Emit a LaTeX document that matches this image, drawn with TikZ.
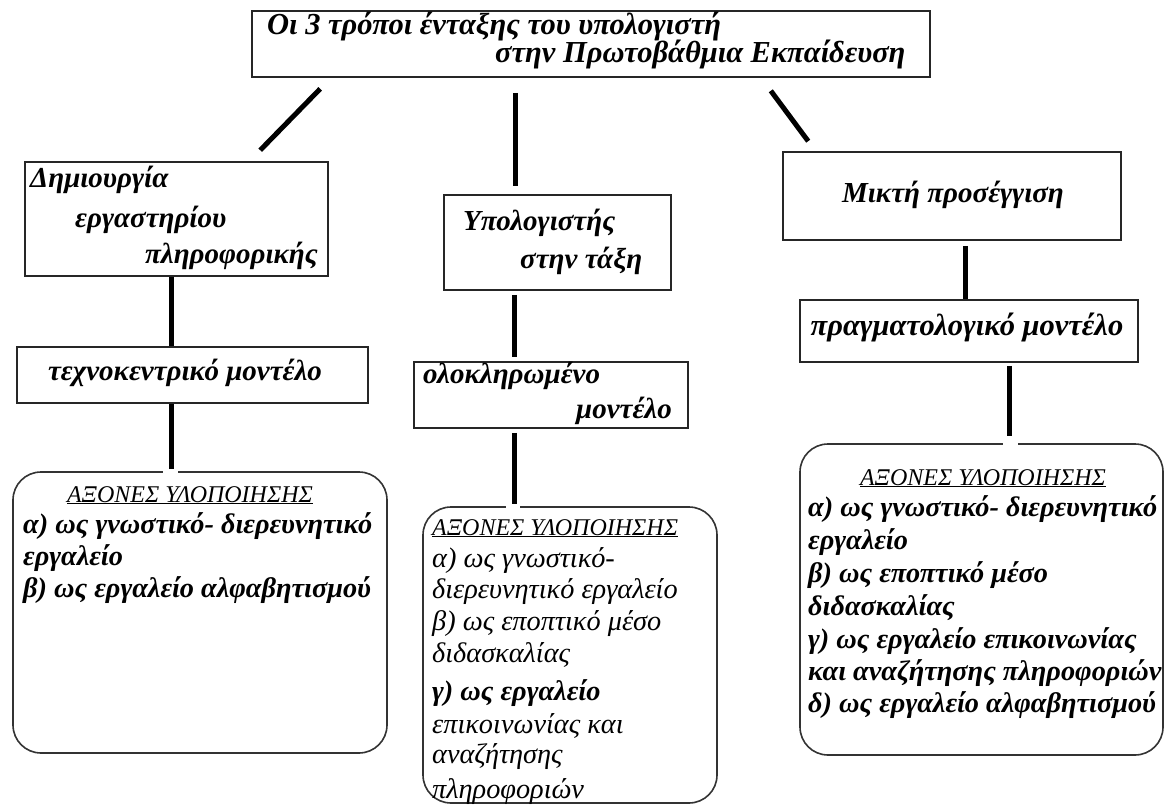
\documentclass[tikz,border=0pt]{standalone}
\usepackage{fontspec}
\setmainfont{Liberation Serif}
\usetikzlibrary{fit,calc}
\tikzset{
  box/.style={draw=black!85, line width=1.6pt, rectangle, inner sep=0pt},
  rbox/.style={draw=black!80, line width=1.6pt, rectangle, rounded corners=28pt, inner sep=0pt},
  conn/.style={line width=5pt, black},
  gap/.style={white, line width=4pt},
  bt/.style={inner sep=0pt, font=\fontsize{29}{33}\selectfont\bfseries\itshape},
  tt/.style={inner sep=0pt, font=\fontsize{30.5}{33}\selectfont\bfseries\itshape},
  lb/.style={inner sep=0pt, font=\fontsize{28.3}{33}\selectfont\bfseries\itshape},
  li/.style={inner sep=0pt, font=\fontsize{28.3}{33}\selectfont\itshape},
  hd/.style={inner sep=0pt, font=\fontsize{24}{28}\selectfont\itshape},
}
\begin{document}
\begin{tikzpicture}[x=1pt,y=-1pt]
\path[use as bounding box, clip] (0,0) rectangle (1164,805);
\fill[white] (0,0) rectangle (1164,805);
% boxes
\node[box, fit={(252,11) (930,77)}] (T) {};
\node[box, fit={(25,162) (328,276)}] (D) {};
\node[box, fit={(17,347) (368,403)}] (M1) {};
\node[rbox, fit={(13,472) (387,753)}] (R1) {};
\node[box, fit={(444,195) (671,290)}] (U) {};
\node[box, fit={(414,362) (688,428)}] (O) {};
\node[rbox, fit={(423,507) (717,803)}] (R2) {};
\node[box, fit={(783,152) (1121,240)}] (K) {};
\node[box, fit={(800,300) (1138,362)}] (P) {};
\node[rbox, fit={(800,444) (1163,755)}] (R3) {};
% small breaks in the rounded boxes' top borders
\draw[gap] (R1.north -| 163,0) -- (R1.north -| 178,0);
\draw[gap] (R2.north -| 506,0) -- (R2.north -| 520,0);
\draw[gap] (R3.north -| 1003,0) -- (R3.north -| 1018,0);
% connectors
\draw[conn] ($(T.south west)+(69,11)$) -- ($(D.north west)+(236,-11)$);
\draw[conn] ($(T.south west)+(264,15)$) -- ($(U.north west)+(72,-8)$);
\draw[conn] ($(T.south east)+(-160,13)$) -- ($(K.north west)+(26,-10)$);
\draw[conn] (D.south -| 171,0) -- (M1.north -| 171,0);
\draw[conn] (M1.south -| 171,0) -- ([yshift=2pt]R1.north -| 171,0);
\draw[conn] ([yshift=-4pt]U.south -| 514,0) -- ([yshift=4pt]O.north -| 514,0);
\draw[conn] ([yshift=-4pt]O.south -| 514,0) -- ([yshift=2pt]R2.north -| 514,0);
\draw[conn] ([yshift=-5pt]K.south -| 965,0) -- (P.north -| 965,0);
\draw[conn] ([yshift=-3pt]P.south -| 1009,0) -- ([yshift=7pt]R3.north -| 1009,0);
% title
\node[tt, anchor=base west] (t1) at (267,35) {Οι 3 τρόποι ένταξης του υπολογιστή};
\node[tt, anchor=base west] (t2) at (495,63) {στην Πρωτοβάθμια Εκπαίδευση};
% left column
\node[bt, anchor=base west] (d1) at (30,188) {Δημιουργία};
\node[bt, anchor=base west] (d2) at (75,227) {εργαστηρίου};
\node[bt, anchor=base east] (d3) at (318,263) {πληροφορικής};
\node[bt, anchor=base] (m1) at (185,380) {τεχνοκεντρικό μοντέλο};
\node[hd, anchor=base] (r1h) at (190,502) {\underline{ΑΞΟΝΕΣ ΥΛΟΠΟΙΗΣΗΣ}};
\node[lb, anchor=base west] (r1a) at (23,533) {α) ως γνωστικό- διερευνητικό};
\node[lb, anchor=base west] (r1b) at (23,565) {εργαλείο};
\node[lb, anchor=base west] (r1c) at (23,597) {β) ως εργαλείο αλφαβητισμού};
% middle column
\node[bt, anchor=base west] (u1) at (463,230) {Υπολογιστής};
\node[bt, anchor=base west] (u2) at (520,268) {στην τάξη};
\node[bt, anchor=base west] (o1) at (423,383) {ολοκληρωμένο};
\node[bt, anchor=base east] (o2) at (672,418) {μοντέλο};
\node[hd, anchor=base west] (r2h) at (432,535) {\underline{ΑΞΟΝΕΣ ΥΛΟΠΟΙΗΣΗΣ}};
\node[li, anchor=base west] (r2a) at (432,567) {α) ως γνωστικό-};
\node[li, anchor=base west] (r2b) at (432,598) {διερευνητικό εργαλείο};
\node[li, anchor=base west] (r2c) at (432,630) {β) ως εποπτικό μέσο};
\node[li, anchor=base west] (r2d) at (432,662) {διδασκαλίας};
\node[lb, anchor=base west] (r2e) at (432,700) {γ) ως εργαλείο};
\node[li, anchor=base west] (r2f) at (432,733) {επικοινωνίας και};
\node[li, anchor=base west] (r2g) at (432,763) {αναζήτησης};
\node[li, anchor=base west] (r2i) at (432,798) {πληροφοριών};
% right column
\node[bt, anchor=base] (k1) at (953,203) {Μικτή προσέγγιση};
\node[tt, anchor=base] (p1) at (967,335) {πραγματολογικό μοντέλο};
\node[hd, anchor=base] (r3h) at (983,485) {\underline{ΑΞΟΝΕΣ ΥΛΟΠΟΙΗΣΗΣ}};
\node[lb, anchor=base west] (r3a) at (808,516) {α) ως γνωστικό- διερευνητικό};
\node[lb, anchor=base west] (r3b) at (808,549) {εργαλείο};
\node[lb, anchor=base west] (r3c) at (808,582) {β) ως εποπτικό μέσο};
\node[lb, anchor=base west] (r3d) at (808,615) {διδασκαλίας};
\node[lb, anchor=base west] (r3e) at (808,648) {γ) ως εργαλείο επικοινωνίας};
\node[lb, anchor=base west] (r3f) at (808,680) {και αναζήτησης πληροφοριών};
\node[lb, anchor=base west] (r3g) at (808,712) {δ) ως εργαλείο αλφαβητισμού};
\end{tikzpicture}
\end{document}
